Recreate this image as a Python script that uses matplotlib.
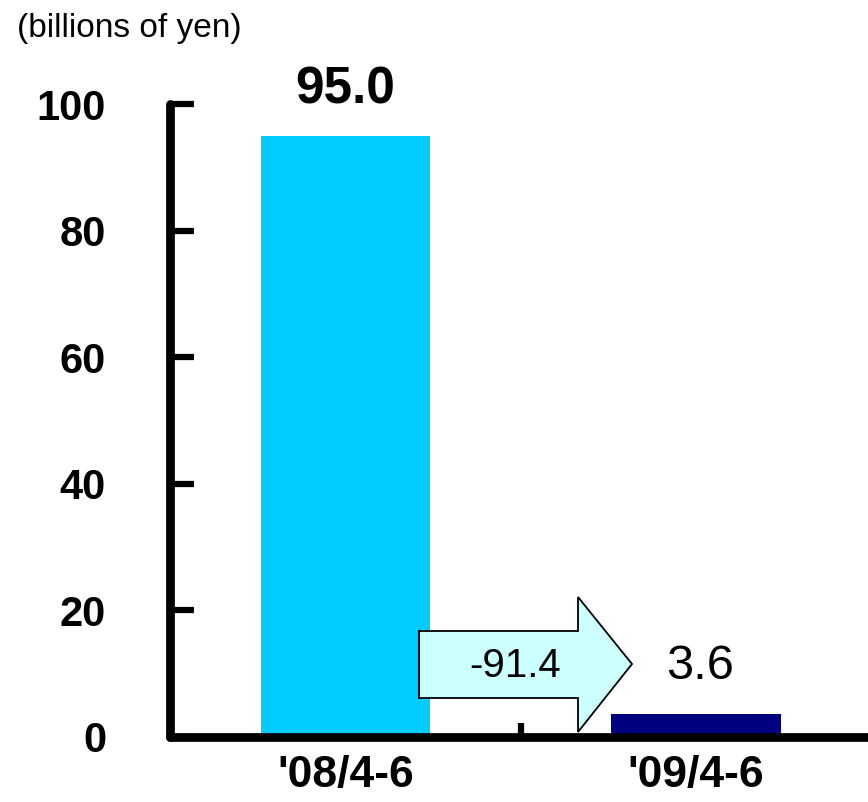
import matplotlib.pyplot as plt
from matplotlib.patches import Polygon

periods = ["'08/4-6", "'09/4-6"]
profit = [95.0, 3.6]
change_label = "-91.4"
yticks = [0, 20, 40, 60, 80, 100]

bar_colors = ["#00CCFF", "#000080"]

plt.rcParams["font.family"] = ["Liberation Sans", "DejaVu Sans"]

fig = plt.figure(figsize=(8.68, 8.02), dpi=100)
ax = fig.add_axes([170 / 868, 65 / 802, 698 / 868, 633 / 802])

xpos = [0.5, 1.5]
ax.bar(xpos, profit, width=0.483, color=bar_colors, zorder=2)

ax.set_xlim(0, 1.99)
ax.set_ylim(0, 100)

for s in ["top", "right"]:
    ax.spines[s].set_visible(False)
for s in ["left", "bottom"]:
    ax.spines[s].set_linewidth(6.3)
    ax.spines[s].set_capstyle("round")
    ax.spines[s].set_zorder(4)

ax.set_yticks(yticks)
ax.set_yticklabels([str(v) for v in yticks], fontsize=30, fontweight="bold")
ax.tick_params(axis="y", direction="in", length=17, width=4.5, pad=46)

ax.set_xticks(xpos)
ax.set_xticklabels(periods, fontsize=32, fontweight="bold")
ax.tick_params(axis="x", which="major", length=0, pad=13)
ax.set_xticks([1.0], minor=True)
ax.tick_params(axis="x", which="minor", direction="in", length=10, width=4.5)

# value labels above the bars
ax.text(xpos[0], profit[0] + 3.3, f"{profit[0]:.1f}", ha="center", va="bottom",
        fontsize=37, fontweight="bold")
ax.text(xpos[1] + 0.01, profit[1] + 7.6, f"{profit[1]:.1f}", ha="center", va="center",
        fontsize=35)

# change arrow between the two periods
ys = 6.33
def py(p):
    return (737 - p) / ys

def px(p):
    return (p - 170) / 350.75

arrow = [(px(419), py(631)), (px(578), py(631)), (px(578), py(597)),
         (px(632), py(664)), (px(578), py(732)), (px(578), py(698)),
         (px(419), py(698))]
ax.add_patch(Polygon(arrow, closed=True, facecolor="#CCFFFF", edgecolor="black",
                     linewidth=1.3, zorder=3))
ax.text(px(515), py(666), change_label, ha="center", va="center", fontsize=29,
        zorder=5)

fig.text(17 / 868, 1 - 28 / 802, "(billions of yen)", ha="left", va="center", fontsize=24)

fig.savefig("out.png", dpi=100)
